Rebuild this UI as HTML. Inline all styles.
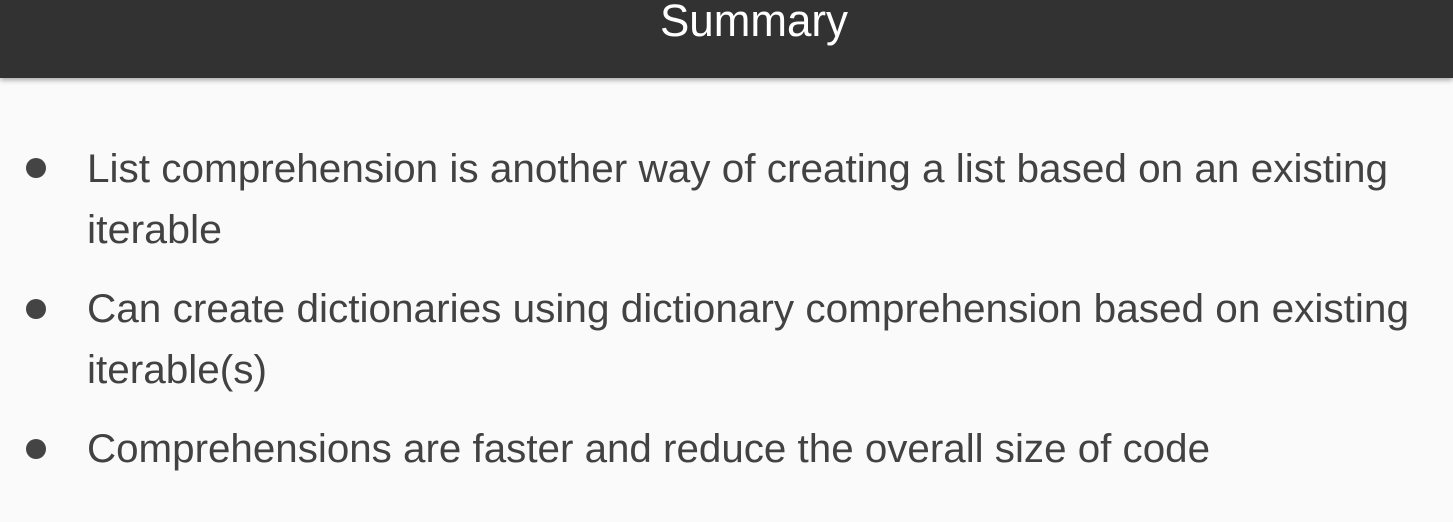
<!DOCTYPE html>
<html><head><meta charset="utf-8"><style>
html,body{margin:0;padding:0;width:1453px;height:522px;overflow:hidden;background:#fafafa}
.hdr{position:absolute;left:0;top:0;width:1453px;height:78px;background:#323232;box-shadow:0 2px 5px rgba(0,0,0,0.35)}
svg{position:absolute;left:0;top:0}
</style></head><body>
<div class="hdr"></div>
<svg width="1453" height="522" font-family="Liberation Sans, sans-serif">
<text x="660" y="36" font-size="45" fill="#fff" textLength="188" lengthAdjust="spacingAndGlyphs">Summary</text>
<g fill="#444">
<circle cx="36" cy="168" r="10"/>
<circle cx="36" cy="309" r="10"/>
<circle cx="36" cy="449" r="10"/>
</g>
<g font-size="40" fill="#424242">
<text x="87" y="182" textLength="1301" lengthAdjust="spacingAndGlyphs">List comprehension is another way of creating a list based on an existing</text>
<text x="87" y="243" textLength="135" lengthAdjust="spacingAndGlyphs">iterable</text>
<text x="87" y="322" textLength="1322" lengthAdjust="spacingAndGlyphs">Can create dictionaries using dictionary comprehension based on existing</text>
<text x="87" y="383" textLength="180" lengthAdjust="spacingAndGlyphs">iterable(s)</text>
<text x="87" y="462" textLength="1123" lengthAdjust="spacingAndGlyphs">Comprehensions are faster and reduce the overall size of code</text>
</g>
</svg>
</body></html>
